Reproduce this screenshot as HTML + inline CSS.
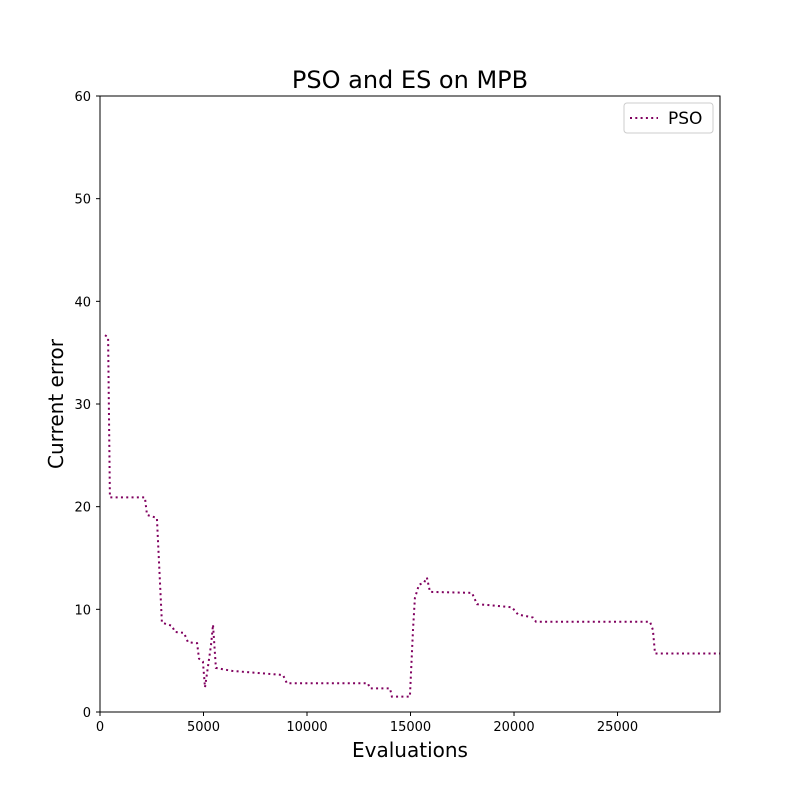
<!DOCTYPE html>
<html><head><meta charset="utf-8"><style>
body{margin:0;background:#fff}
svg text{font-family:"DejaVu Sans","Liberation Sans",sans-serif}
</style></head><body>
<svg id="chart" width="800" height="800">
<rect width="800" height="800" fill="#fff"/>
<text x="410" y="88" text-anchor="middle" font-size="24">PSO and ES on MPB</text>
<g id="ticks"></g>
<path id="line" fill="none" stroke="#80005f" stroke-width="2" stroke-dasharray="2,3.3"/>
<rect x="100" y="96" width="620" height="616" fill="none" stroke="#000" stroke-width="1"/>
<text x="410" y="757" text-anchor="middle" font-size="20">Evaluations</text>
<text transform="translate(63,404) rotate(-90)" text-anchor="middle" font-size="20">Current error</text>
<g>
<rect x="624" y="103" width="89" height="30" rx="3" fill="#fff" stroke="#ccc"/>
<line x1="630" y1="118" x2="658" y2="118" stroke="#80005f" stroke-width="2" stroke-dasharray="2,3.3"/>
<text x="668" y="124" font-size="17">PSO</text>
</g>
</svg>
<script>
const xVals=[240,390,480,2170,2270,2750,2990,3480,3620,4060,4250,4690,4780,4970,5070,5360,5460,5600,5840,6380,8840,9030,12940,13040,14010,14100,14970,15120,15210,15410,15650,15790,15940,17970,18210,18840,19900,20190,20910,21060,26570,26710,26810,29950];
const yVals=[36.7,36.5,20.9,20.9,19.2,18.9,8.7,8.4,7.8,7.7,6.8,6.7,5.2,4.9,2.4,6.5,8.5,4.3,4.2,4.0,3.6,2.8,2.8,2.3,2.3,1.5,1.5,8.0,11.1,12.4,12.6,13.1,11.7,11.6,10.5,10.4,10.2,9.5,9.2,8.8,8.8,8.0,5.7,5.7];
const xTicks=[0,5000,10000,15000,20000,25000];
const yTicks=[0,10,20,30,40,50,60];
const X=v=>100+v/29950*620, Y=v=>712-v/60*616;
const ns="http://www.w3.org/2000/svg";
const line=document.getElementById('line');
line.setAttribute('d',xVals.map((x,i)=>(i?'L':'M')+X(x).toFixed(1)+','+Y(yVals[i]).toFixed(1)).join(''));
const g=document.getElementById('ticks');
xTicks.forEach(t=>{
 const l=document.createElementNS(ns,'line');
 
 
 l.setAttribute('x1',X(t));l.setAttribute('x2',X(t));l.setAttribute('y1',712);l.setAttribute('y2',716);l.setAttribute('stroke','#000');g.appendChild(l);
 const tx=document.createElementNS(ns,'text');
 
 
 tx.setAttribute('x',X(t));tx.setAttribute('y',731);tx.setAttribute('text-anchor','middle');tx.setAttribute('font-size','13');tx.textContent=t;g.appendChild(tx);
});
yTicks.forEach(t=>{
 const l=document.createElementNS(ns,'line');
 
 
 l.setAttribute('x1',96);l.setAttribute('x2',100);l.setAttribute('y1',Y(t));l.setAttribute('y2',Y(t));l.setAttribute('stroke','#000');g.appendChild(l);
 const tx=document.createElementNS(ns,'text');
 
 
 tx.setAttribute('x',91);tx.setAttribute('y',Y(t)+5);tx.setAttribute('text-anchor','end');tx.setAttribute('font-size','13');tx.textContent=t;g.appendChild(tx);
});
</script>
</body></html>
